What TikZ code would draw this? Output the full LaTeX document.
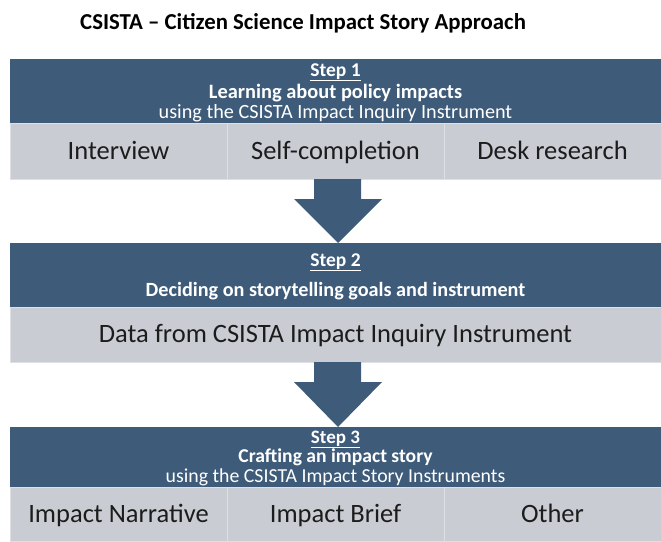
\documentclass[tikz,border=0pt]{standalone}
\usepackage{fontspec}
\setmainfont{Carlito}
\usetikzlibrary{calc,positioning}

\definecolor{stepblue}{RGB}{62,92,122}
\definecolor{cellgray}{RGB}{201,204,211}
\definecolor{cellline}{RGB}{222,224,228}
\definecolor{celltext}{RGB}{28,28,28}

\tikzset{
  header/.style={fill=stepblue, minimum width=651pt, inner sep=0pt,
    outer sep=0pt, anchor=north west},
  cell/.style={fill=cellgray, draw=cellline, line width=0.8pt, text=celltext,
    inner sep=0pt, outer sep=0pt, anchor=north west, text height=16pt, text depth=0pt,
    font=\fontsize{26.5}{30}\selectfont},
  stepno/.style={anchor=base, inner sep=0pt, text=white,
    font=\bfseries\fontsize{19.5}{22}\selectfont},
  steptitle/.style={anchor=base, inner sep=0pt, text=white,
    font=\bfseries\fontsize{20.2}{24}\selectfont},
  stepnote/.style={anchor=base, inner sep=0pt, text=white,
    font=\fontsize{20.2}{24}\selectfont},
}

\begin{document}
\begin{tikzpicture}[x=1pt,y=-1pt]
\useasboundingbox (0,0) rectangle (661,541);
\node[anchor=base west, inner sep=0pt, font=\bfseries\fontsize{22.8}{26}\selectfont] (title) at (80,29)
  {CSISTA -- Citizen Science Impact Story Approach};

% step 1
\node[header, minimum height=64pt] (head1) at (10,59) {};
\node[stepno] (step1) at ($(head1.north)+(0,17)$) {\underline{Step 1}};
\node[steptitle, font=\bfseries\fontsize{20.4}{24}\selectfont] (goal1) at ($(head1.north)+(0,39.5)$)
  {Learning about policy impacts};
\node[stepnote] (note1) at ($(head1.north)+(0,59.5)$) {using the CSISTA Impact Inquiry Instrument};
\node[cell, minimum width=217pt, minimum height=56pt] (cell11) at (head1.south west) {Interview};
\node[cell, minimum width=217pt, minimum height=56pt, right=0pt of cell11] (cell12) {Self-completion};
\node[cell, minimum width=217pt, minimum height=56pt, right=0pt of cell12] (cell13) {Desk research};

% step 2
\node[header, minimum height=64pt] (head2) at (10,243) {};
\node[stepno] (step2) at ($(head2.north)+(0,23)$) {\underline{Step 2}};
\node[steptitle] (goal2) at ($(head2.north)+(0,53.5)$) {Deciding on storytelling goals and instrument};
\node[cell, minimum width=651pt, minimum height=55pt] (cell21) at (head2.south west)
  {Data from CSISTA Impact Inquiry Instrument};

% step 3, a little tighter
\node[header, minimum height=60pt] (head3) at (10,427) {};
\node[stepno, font=\bfseries\fontsize{19}{22}\selectfont] (step3) at ($(head3.north)+(0,16)$) {\underline{Step 3}};
\node[steptitle, font=\bfseries\fontsize{19.6}{22}\selectfont] (goal3) at ($(head3.north)+(0,35)$)
  {Crafting an impact story};
\node[stepnote, font=\fontsize{19.8}{22}\selectfont] (note3) at ($(head3.north)+(0,55)$)
  {using the CSISTA Impact Story Instruments};
\node[cell, minimum width=217pt, minimum height=54pt] (cell31) at (head3.south west) {Impact Narrative};
\node[cell, minimum width=217pt, minimum height=54pt, right=0pt of cell31] (cell32) {Impact Brief};
\node[cell, minimum width=217pt, minimum height=54pt, right=0pt of cell32] (cell33) {Other};

% block arrows between the steps
\foreach \from/\to in {cell12/head2, cell21/head3}
  \fill[stepblue] ($(\from.south)+(-21.5,0)$) -- ++(47,0) -- ++(0,20) -- ++(21,0)
    -- ($(\to.north)+(2.5,0)$) -- ($(\from.south)+(-41.5,20)$) -- ++(20,0) -- cycle;
\end{tikzpicture}
\end{document}
